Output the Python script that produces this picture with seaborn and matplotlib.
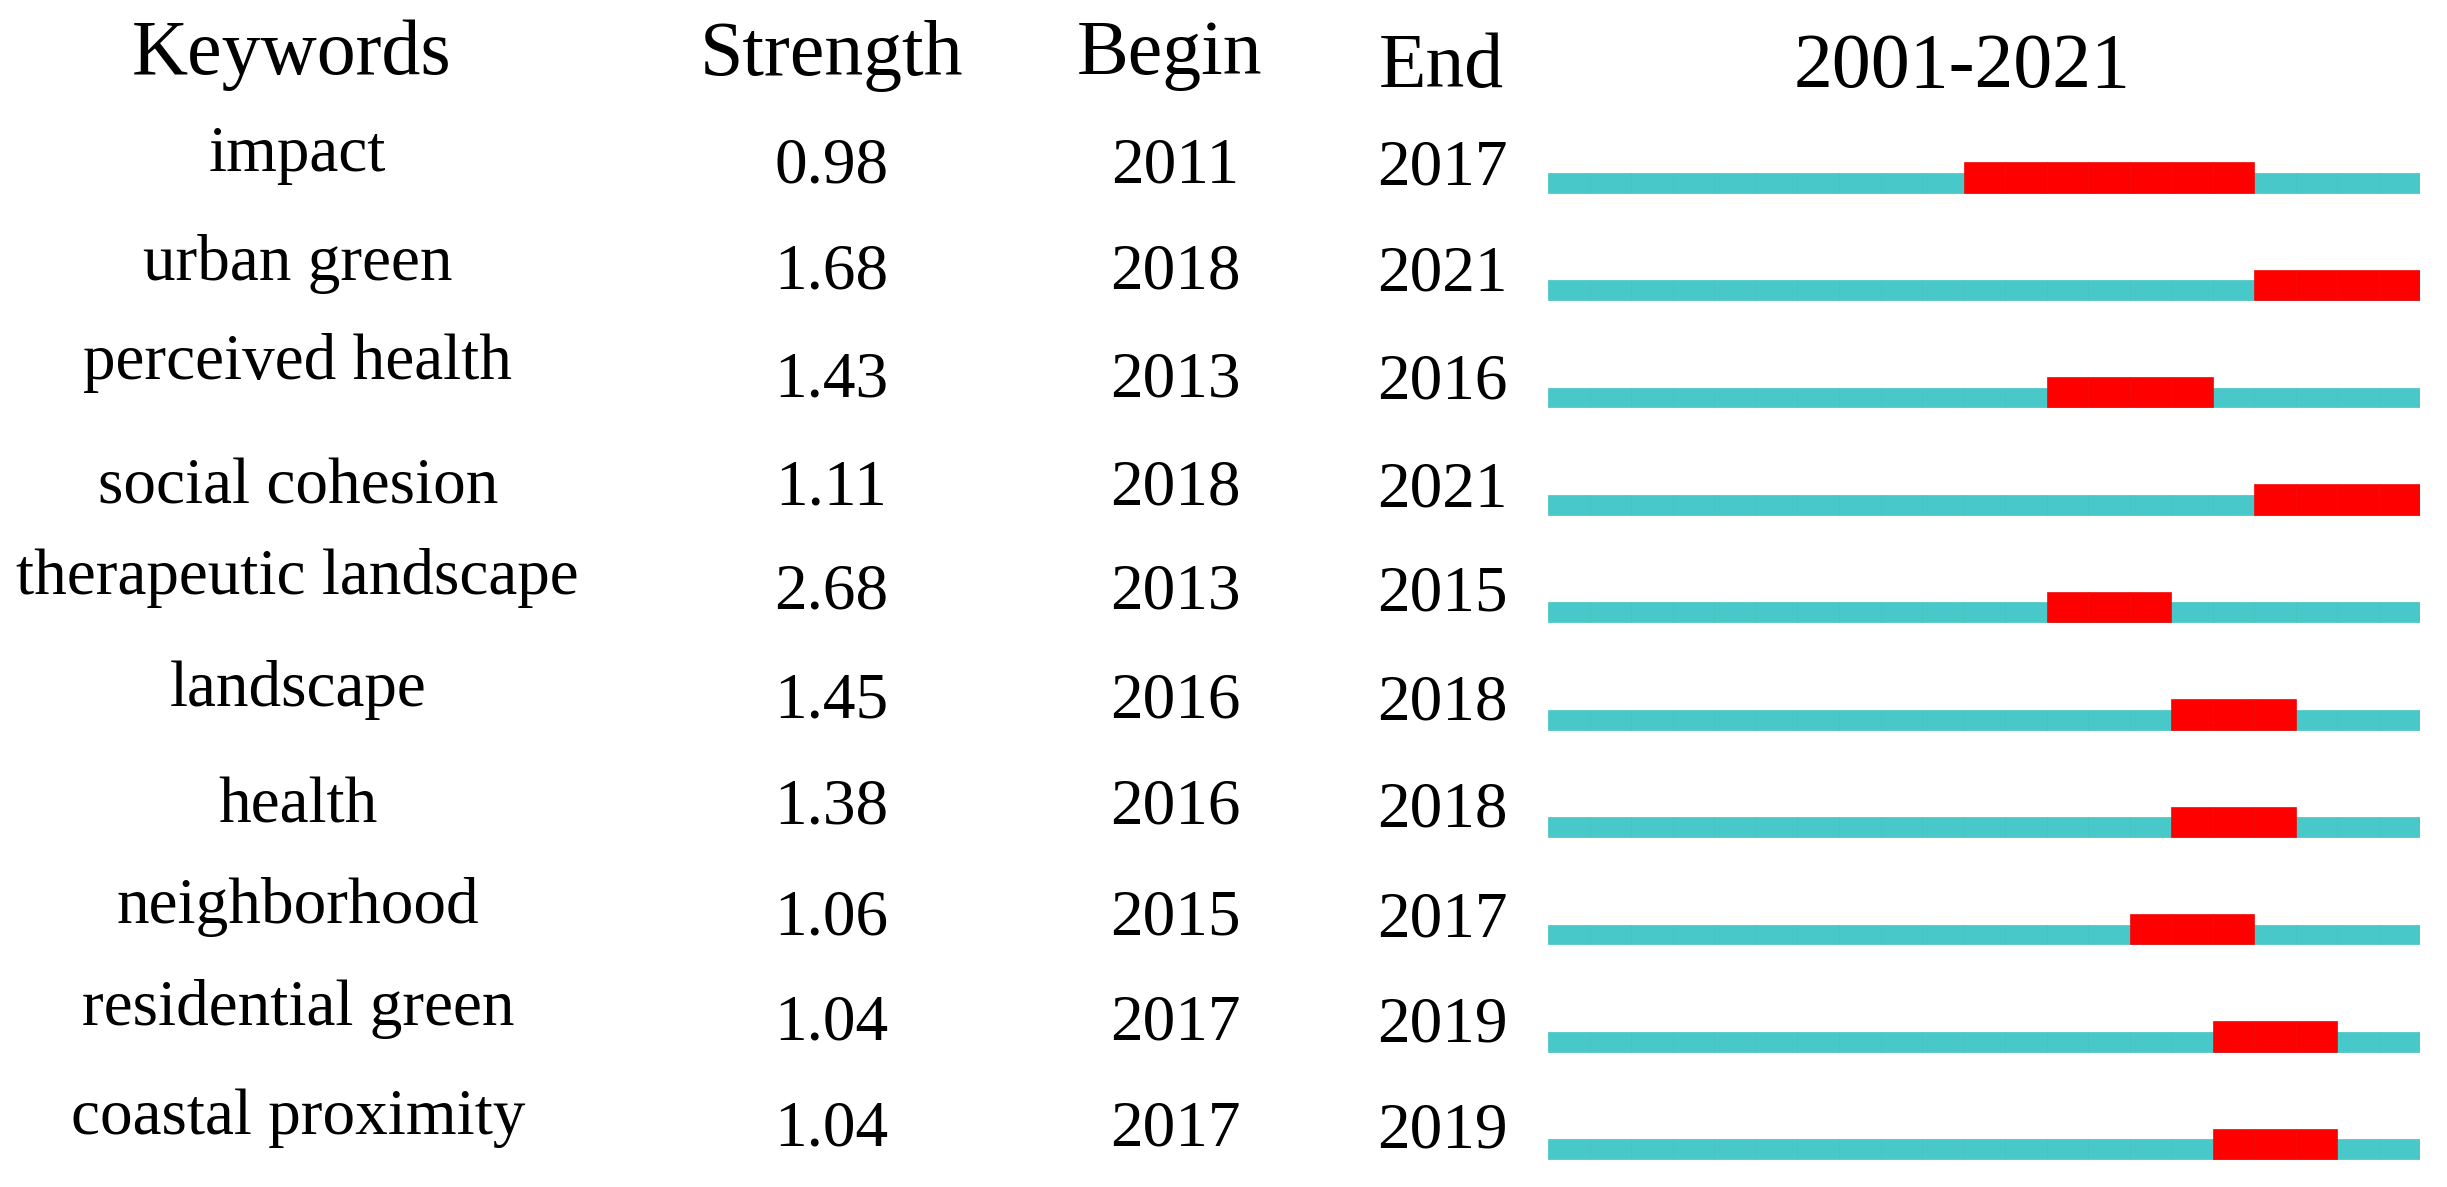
import matplotlib
matplotlib.use('Agg')
import matplotlib.pyplot as plt
import seaborn as sns
import numpy as np

keywords = ['impact', 'urban green', 'perceived health', 'social cohesion',
            'therapeutic landscape', 'landscape', 'health', 'neighborhood',
            'residential green', 'coastal proximity']
strength = ['0.98', '1.68', '1.43', '1.11', '2.68', '1.45', '1.38', '1.06', '1.04', '1.04']
begin = [2011, 2018, 2013, 2018, 2013, 2016, 2016, 2015, 2017, 2017]
end = [2017, 2021, 2016, 2021, 2015, 2018, 2018, 2017, 2019, 2019]
first_year = 2001
last_year = 2021
headers = ['Keywords', 'Strength', 'Begin', 'End', '2001-2021']

sns.set_theme(style='white')
plt.rcParams['font.family'] = ['Liberation Serif', 'DejaVu Serif']
plt.rcParams['text.color'] = 'black'

teal = '#48C8C8'
red = '#FF0000'

fig = plt.figure(figsize=[24.47, 11.87], dpi=100)

# shared vertical scale: row index, row 0 at top
ylim = (9.258, -1.794)

# text table over the whole figure
tab = fig.add_axes([0, 0, 1, 1])
tab.set_xlim(0, 1)
tab.set_ylim(*ylim)
tab.axis('off')

# timeline axes (x in years)
tl = fig.add_axes([0.6328, 0, 0.9890 - 0.6328, 1])
tl.set_xlim(first_year, last_year + 1)
tl.set_ylim(*ylim)
tl.axis('off')

teal_h = 0.186
red_h = 0.284
years = np.arange(first_year, last_year + 1)
rows = np.arange(len(keywords))

for i in rows:
    tl.barh(np.full(len(years), i - teal_h), np.ones(len(years)), left=years,
            height=teal_h, align='edge', color=teal, edgecolor='#45c2c2', linewidth=0.5)
    burst = np.arange(begin[i], end[i] + 1)
    tl.barh(np.full(len(burst), i - red_h), np.ones(len(burst)), left=burst,
            height=red_h, align='edge', color=red, edgecolor='#f20808', linewidth=0.5)

kw_nudge = [-0.198, -0.189, -0.262, -0.109, -0.262, -0.225, -0.138, -0.198, -0.247, -0.240]
num_nudge = [-0.096, -0.108, -0.102, -0.094, -0.131, -0.116, -0.122, -0.096, -0.116, -0.131]
fs = 47
for i in rows:
    tab.text(0.1217, i + kw_nudge[i], keywords[i], ha='center', va='baseline', fontsize=fs, color='black')
    tab.text(0.3397, i + num_nudge[i], strength[i], ha='center', va='baseline', fontsize=fs, color='black')
    tab.text(0.4804, i + num_nudge[i], str(begin[i]), ha='center', va='baseline', fontsize=fs, color='black')
    tab.text(0.5895, i + num_nudge[i] + 0.02, str(end[i]), ha='center', va='baseline', fontsize=fs, color='black')

hx = [0.119, 0.340, 0.478, 0.589, 0.802]
hy = [74, 75, 74, 87, 87]
for t, x, y in zip(headers, hx, hy):
    fig.text(x, 1 - y / 1187, t, ha='center', va='baseline', fontsize=56, color='black')

fig.savefig('out.png', dpi=100)
